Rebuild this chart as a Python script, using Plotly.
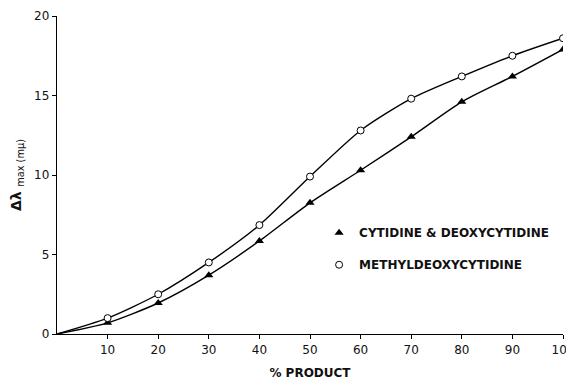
import plotly.graph_objects as go

product = [10, 20, 30, 40, 50, 60, 70, 80, 90, 100]
cytidine = [0.7, 1.95, 3.7, 5.85, 8.25, 10.3, 12.4, 14.6, 16.2, 17.9]
methyl = [1.0, 2.5, 4.5, 6.85, 9.9, 12.8, 14.8, 16.2, 17.5, 18.6]
origin_x = [0]
origin_y = [0]
x_ticks = [10, 20, 30, 40, 50, 60, 70, 80, 90, 100]
y_ticks = [0, 5, 10, 15, 20]

FONT = "DejaVu Sans"
fig = go.Figure()

fig.add_trace(go.Scatter(x=origin_x + product, y=origin_y + methyl,
                         mode="lines", line=dict(color="black", width=1.4, shape="spline", smoothing=0.7),
                         showlegend=False, hoverinfo="skip"))
fig.add_trace(go.Scatter(x=origin_x + product, y=origin_y + cytidine,
                         mode="lines", line=dict(color="black", width=1.4, shape="spline", smoothing=0.7),
                         showlegend=False, hoverinfo="skip"))
fig.add_trace(go.Scatter(x=product, y=cytidine, mode="markers", name="<b>CYTIDINE &amp; DEOXYCYTIDINE</b>",
                         legendgroup="a",
                         marker=dict(symbol="triangle-up", size=8, color="black")))
fig.add_trace(go.Scatter(x=product, y=methyl, mode="markers", name="<b>METHYLDEOXYCYTIDINE</b>",
                         legendgroup="b",
                         marker=dict(symbol="circle", size=7, color="white", line=dict(color="black", width=1))))

# page body has an 8px margin; figure sized so that it fits the 574x380 window
fig.update_layout(
    width=566, height=372,
    margin=dict(l=49, r=11, t=8, b=46),
    paper_bgcolor="white", plot_bgcolor="white",
    font=dict(family=FONT, color="#111", size=12),
    legend=dict(x=0.518, y=0.364, xanchor="left", yanchor="top", bgcolor="rgba(0,0,0,0)",
                font=dict(size=12, family=FONT, color="#111"), tracegroupgap=13, itemwidth=30),
    xaxis=dict(range=[0, 100], tickvals=x_ticks, ticktext=[str(v) for v in x_ticks],
               showgrid=False, zeroline=False, showline=True, linecolor="black", linewidth=1.4,
               ticks="outside", ticklen=4, tickcolor="black", automargin=False,
               ticklabeloverflow="allow",
               tickfont=dict(size=12, family=FONT, color="#111"),
               title=dict(text="<b>% PRODUCT</b>", standoff=14, font=dict(size=12, family=FONT))),
    yaxis=dict(range=[0, 20], tickvals=y_ticks, ticktext=[str(v) for v in y_ticks],
               showgrid=False, zeroline=False, showline=True, linecolor="black", linewidth=1.4,
               ticks="outside", ticklen=4, tickcolor="black", automargin=False,
               ticklabeloverflow="allow",
               tickfont=dict(size=12, family=FONT, color="#111"),
               title=dict(text="<b>Δλ</b> <sub>max (mμ)</sub>", standoff=14, font=dict(size=14, family=FONT))),
)

fig.write_html("out.html")
